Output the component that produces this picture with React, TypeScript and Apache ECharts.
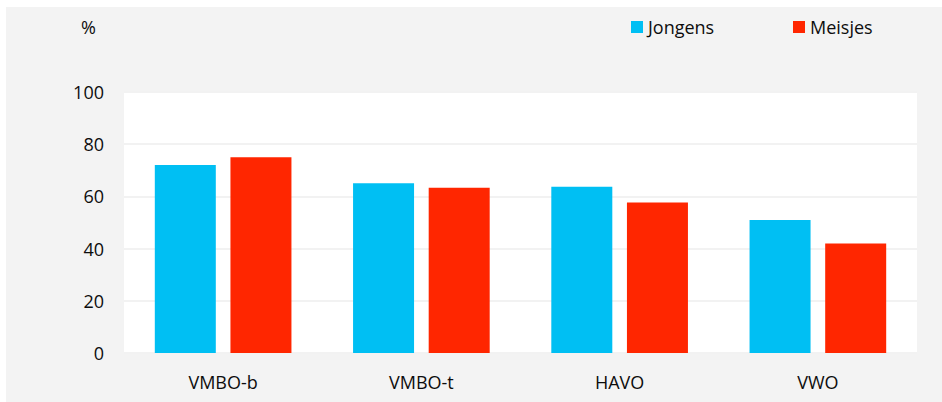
import React, { useEffect, useRef } from "react";
import * as echarts from "echarts";

const categories = ["VMBO-b", "VMBO-t", "HAVO", "VWO"];
const jongens = [72, 65, 63.7, 51];
const meisjes = [75, 63.3, 57.7, 42];
const yTicks = [0, 20, 40, 60, 80, 100];

const FONT = "'Open Sans', 'Liberation Sans', sans-serif";
const TXT = "#0d0d0d";

export default function App() {
  const ref = useRef<HTMLDivElement>(null);
  useEffect(() => {
    if (!ref.current) return;
    const chart = echarts.init(ref.current, undefined, { renderer: "svg" });
    chart.setOption({
      animation: false,
      backgroundColor: "#f3f3f3",
      textStyle: { fontFamily: FONT },
      graphic: [
        {
          type: "text",
          left: 75,
          top: 11,
          style: { text: "%", fontSize: 18, fontFamily: FONT, fill: TXT },
        },
      ],
      legend: [
        {
          data: ["Jongens"],
          left: 625,
          top: 11,
          padding: 0,
          itemWidth: 12,
          itemHeight: 12,
          icon: "rect",
          textStyle: { fontSize: 18, color: TXT, fontFamily: FONT },
        },
        {
          data: ["Meisjes"],
          left: 787,
          top: 11,
          padding: 0,
          itemWidth: 12,
          itemHeight: 12,
          icon: "rect",
          textStyle: { fontSize: 18, color: TXT, fontFamily: FONT },
        },
      ],
      grid: {
        left: 118,
        top: 85,
        width: 793,
        height: 261,
        show: true,
        backgroundColor: "#ffffff",
        borderWidth: 0,
        containLabel: false,
      },
      xAxis: {
        type: "category",
        data: categories,
        axisLine: { show: false },
        axisTick: { show: false },
        axisLabel: { fontSize: 18, color: TXT, margin: 20, fontFamily: FONT },
      },
      yAxis: {
        type: "value",
        min: yTicks[0],
        max: yTicks[yTicks.length - 1],
        interval: 20,
        axisLine: { show: false },
        axisTick: { show: false },
        axisLabel: { fontSize: 18, color: TXT, margin: 20, fontFamily: FONT },
        splitLine: { lineStyle: { color: "#f2f2f2", width: 2 } },
      },
      series: [
        {
          name: "Jongens",
          type: "bar",
          data: jongens,
          barWidth: 61,
          barGap: "24%",
          itemStyle: { color: "#00bff3" },
        },
        {
          name: "Meisjes",
          type: "bar",
          data: meisjes,
          barWidth: 61,
          itemStyle: { color: "#ff2600" },
        },
      ],
    });
    return () => chart.dispose();
  }, []);
  return (
    <div style={{ position: "absolute", left: 0, top: 0, width: 942, height: 402, background: "#fff" }}>
      <div ref={ref} style={{ position: "absolute", left: 6, top: 7, width: 936, height: 395 }} />
    </div>
  );
}
